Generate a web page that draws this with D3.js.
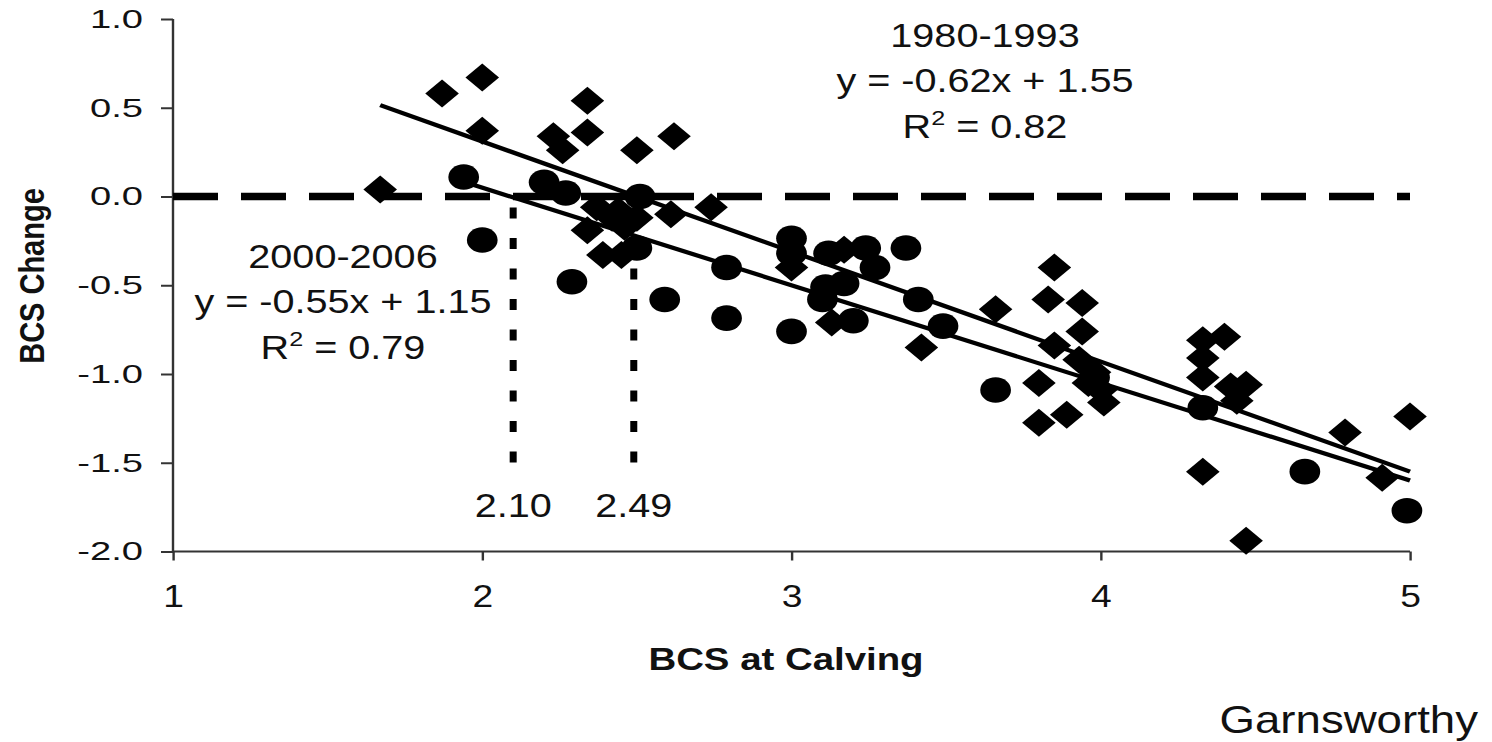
<!DOCTYPE html>
<html>
<head>
<meta charset="utf-8">
<script src="https://cdn.jsdelivr.net/npm/d3@7"></script>
<style>
  html, body { margin: 0; padding: 0; background: #fff; }
  svg { display: block; }
  text { font-family: Arial, "Liberation Sans", sans-serif; fill: #111; }
</style>
</head>
<body>
<svg id="chart"></svg>
<script>
// ---------- data ----------
const xTicks = [1, 2, 3, 4, 5];
const xTickLabels = ["1", "2", "3", "4", "5"];
const yTicks = [1.0, 0.5, 0.0, -0.5, -1.0, -1.5, -2.0];
const yTickLabels = ["1.0", "0.5", "0.0", "-0.5", "-1.0", "-1.5", "-2.0"];

// 1980-1993 (diamonds)
const series1980X = [1.67, 1.87, 2.00, 2.00, 2.23, 2.26, 2.34, 2.34, 2.50, 2.62,
  2.37, 2.42, 2.34, 2.46, 2.61, 2.74, 2.39, 2.45, 2.44, 2.50,
  3.00, 3.13, 3.42, 3.17,
  3.85, 3.83, 3.94, 3.66, 3.94, 3.85, 3.93, 3.98, 4.00, 4.01, 3.96,
  3.80, 3.89, 3.80, 4.33, 4.40, 4.33, 4.33, 4.42, 4.47, 4.44,
  4.33, 4.47, 4.79, 5.00, 4.91];
const series1980Y = [0.04, 0.58, 0.67, 0.37, 0.34, 0.26, 0.54, 0.36, 0.26, 0.34,
  -0.06, -0.12, -0.19, -0.17, -0.10, -0.06, -0.33, -0.33, -0.08, -0.12,
  -0.40, -0.71, -0.85, -0.30,
  -0.40, -0.58, -0.60, -0.635, -0.76, -0.84, -0.92, -0.99, -1.09, -1.16, -1.05,
  -1.05, -1.23, -1.275, -0.81, -0.79, -0.91, -1.02, -1.07, -1.06, -1.15,
  -1.55, -1.94, -1.33, -1.24, -1.585];

// 2000-2006 (circles)
const series2000X = [1.94, 2.00, 2.20, 2.27, 2.29, 2.51, 2.50, 2.59, 2.79, 2.79,
  3.00, 3.00, 3.00, 3.10, 3.11, 3.12, 3.17, 3.20, 3.24, 3.27,
  3.37, 3.41, 3.49, 3.66, 3.98, 4.33, 4.66, 4.99];
const series2000Y = [0.11, -0.245, 0.08, 0.02, -0.48, 0.00, -0.29, -0.58, -0.40, -0.685,
  -0.235, -0.32, -0.76, -0.58, -0.51, -0.32, -0.49, -0.70, -0.29, -0.40,
  -0.29, -0.58, -0.73, -1.09, -1.02, -1.19, -1.55, -1.77];

// regression fits
const fit1980 = { slope: -0.62, intercept: 1.55, x0: 1.67, x1: 5.0 };
const fit2000 = { slope: -0.55, intercept: 1.15, x0: 1.94, x1: 5.0 };
const crossings = [2.10, 2.49];
const crossingLabels = ["2.10", "2.49"];
const crossingBottom = -1.5;

// ---------- layout ----------
const S = 1.2;                 // horizontal stretch of the original picture
const W = 1492 / S, H = 742;
const FONT = "Arial, 'Liberation Sans', sans-serif";
const svg = d3.select("#chart")
  .attr("width", 1492).attr("height", 742)
  .attr("viewBox", `0 0 ${W} ${H}`)
  .attr("preserveAspectRatio", "none");

const x = d3.scaleLinear().domain([1, 5]).range([173 / S, 1410 / S]);
const y = d3.scaleLinear().domain([-2, 1]).range([551.5, 19]);

// ---------- axes ----------
const yAxis = d3.axisLeft(y).tickValues(yTicks)
  .tickFormat((d, i) => yTickLabels[i]).tickSize(12 / S).tickPadding(15);
const gy = svg.append("g").attr("transform", `translate(${x(1)},0)`).call(yAxis);
gy.selectAll("text").attr("font-size", 26.5).attr("font-family", FONT).attr("fill", "#111")
  .each(function () {
    const w = this.getComputedTextLength();
    d3.select(this).attr("textLength", w * 1.2).attr("lengthAdjust", "spacingAndGlyphs");
  });

const xAxis = d3.axisBottom(x).tickValues(xTicks)
  .tickFormat((d, i) => xTickLabels[i]).tickSize(9).tickPadding(24);
const gx = svg.append("g").attr("transform", `translate(0,${y(-2)})`).call(xAxis);
gx.selectAll("text").attr("font-size", 31).attr("font-family", FONT).attr("fill", "#111");

[gx, gy].forEach(g => {
  g.select(".domain").attr("stroke", "#333").attr("stroke-width", 2);
  g.selectAll(".tick line").attr("stroke", "#333").attr("stroke-width", 2);
});
gx.select(".domain").attr("d", `M${x(1)},0H${x(5)}`);
gy.select(".domain").attr("d", `M0,${y(-2)}V${y(1)}`);

// ---------- zero reference line ----------
svg.append("line")
  .attr("x1", x(1)).attr("x2", x(5))
  .attr("y1", y(0)).attr("y2", y(0))
  .attr("stroke", "#000").attr("stroke-width", 7.5)
  .attr("stroke-dasharray", `${45 / S},${23 / S}`);

// ---------- crossing dotted lines ----------
svg.selectAll(".cross").data(crossings).enter().append("line")
  .attr("x1", d => x(d)).attr("x2", d => x(d))
  .attr("y1", y(0)).attr("y2", y(crossingBottom))
  .attr("stroke", "#000").attr("stroke-width", 7 / S)
  .attr("stroke-dasharray", "11,19.5").attr("stroke-dashoffset", 19.5);

svg.selectAll(".crossLabel").data(crossings).enter().append("text")
  .attr("x", d => x(d)).attr("y", 517)
  .attr("text-anchor", "middle").attr("font-size", 33)
  .text((d, i) => crossingLabels[i]);

// ---------- markers ----------
const d1980 = series1980X.map((v, i) => ({ x: v, y: series1980Y[i] }));
const d2000 = series2000X.map((v, i) => ({ x: v, y: series2000Y[i] }));
const r = 14;
svg.selectAll(".dia").data(d1980).enter().append("path")
  .attr("d", `M0,${-r}L${r},0L0,${r}L${-r},0Z`)
  .attr("transform", d => `translate(${x(d.x)},${y(d.y)})`)
  .attr("fill", "#000");
svg.selectAll(".circ").data(d2000).enter().append("circle")
  .attr("cx", d => x(d.x)).attr("cy", d => y(d.y)).attr("r", 12.8)
  .attr("fill", "#000");

// ---------- regression lines ----------
[fit1980, fit2000].forEach(f => {
  svg.append("line")
    .attr("x1", x(f.x0)).attr("y1", y(f.slope * f.x0 + f.intercept))
    .attr("x2", x(f.x1)).attr("y2", y(f.slope * f.x1 + f.intercept))
    .attr("stroke", "#000").attr("stroke-width", 4.2);
});

// ---------- annotations ----------
function eqBlock(cx, y0, title, eq, r2) {
  const g = svg.append("g").attr("font-size", 33).attr("text-anchor", "middle");
  g.append("text").attr("x", cx).attr("y", y0).text(title);
  g.append("text").attr("x", cx).attr("y", y0 + 45).text(eq);
  const t = g.append("text").attr("x", cx).attr("y", y0 + 91);
  t.append("tspan").text("R");
  t.append("tspan").attr("font-size", 21).attr("dy", -13).text("2");
  t.append("tspan").attr("dy", 13).text(" = " + r2);
}
eqBlock(985 / S, 47, "1980-1993", "y = -0.62x + 1.55", "0.82");
eqBlock(343 / S, 268, "2000-2006", "y = -0.55x + 1.15", "0.79");

// axis titles
svg.append("text").attr("x", 786 / S).attr("y", 670)
  .attr("text-anchor", "middle").attr("font-size", 32).attr("font-weight", "bold")
  .text("BCS at Calving");
svg.append("text")
  .attr("transform", `translate(${44 / S},${276}) rotate(-90)`)
  .attr("text-anchor", "middle").attr("font-size", 29).attr("font-weight", "bold")
  .text("BCS Change");

svg.append("text").attr("x", 1478 / S).attr("y", 733)
  .attr("text-anchor", "end").attr("font-size", 38)
  .text("Garnsworthy");
</script>
</body>
</html>
